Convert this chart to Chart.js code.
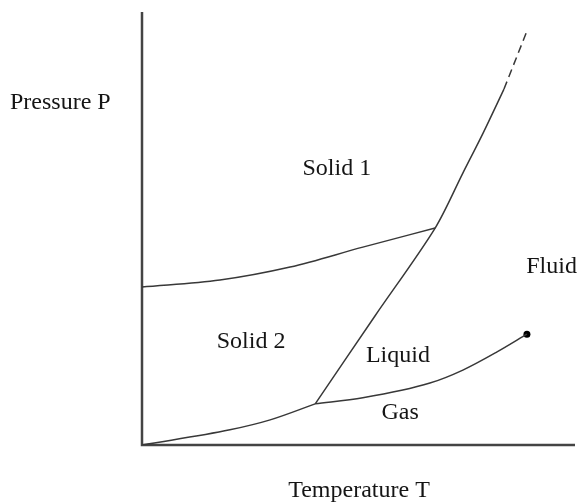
<!DOCTYPE html>
<html lang="en">
<head>
    <meta charset="UTF-8">
    <title>Phase Diagram</title>
    <style>
        body {
            margin: 0;
            background-color: #fff;
        }
        canvas {
            display: block;
        }
    </style>
    <script src="https://cdn.jsdelivr.net/npm/chart.js"></script>
</head>
<body>
    <canvas id="phaseChart" width="580" height="504"></canvas>

    <script>
        // Phase boundaries, in arbitrary units (T and P from 0 to 100)
        const sublimationT = [0, 20.3, 29.6, 40.0];
        const sublimationP = [0, 3.5, 5.8, 9.5];

        const vaporT = [40.0, 51.0, 66.5, 74.1, 82.0, 88.9];
        const vaporP = [9.5, 10.9, 14.3, 17.3, 21.5, 25.6];

        const meltingT = [40.0, 53.8, 67.7, 74.1, 78.8, 83.6];
        const meltingP = [9.5, 29.8, 50.1, 62.8, 72.1, 82.2];

        const meltingDashT = [83.6, 89.1];
        const meltingDashP = [82.2, 96.1];

        const solidSolidT = [0, 18.0, 34.2, 51.0, 67.7];
        const solidSolidP = [36.5, 38.1, 41.1, 45.7, 50.1];

        const criticalT = [88.9];
        const criticalP = [25.6];

        // Region names and where they sit (T, P at the text baseline)
        const regionNames = ['Solid 1', 'Solid 2', 'Liquid', 'Gas', 'Fluid'];
        const regionT = [45.0, 25.2, 59.1, 59.6, 94.6];
        const regionP = [62.4, 22.4, 19.2, 6.0, 39.7];

        const lineColor = '#383838';
        const textFont = '24px "Liberation Serif", "DejaVu Serif", serif';

        function toPoints(xs, ys) {
            return xs.map((x, i) => ({ x: x, y: ys[i] }));
        }

        function curve(xs, ys, opts) {
            opts = opts || {};
            return {
                data: toPoints(xs, ys),
                showLine: true,
                pointRadius: 0,
                borderColor: lineColor,
                borderWidth: 1.5,
                borderDash: opts.dashed ? [8, 5] : [],
                cubicInterpolationMode: opts.spline ? 'default' : 'monotone',
                tension: opts.spline ? 0.3 : 0,
                fill: false
            };
        }

        // Axis lines and text labels
        const diagramText = {
            id: 'diagramText',
            beforeDatasetsDraw(chart) {
                const { ctx, chartArea } = chart;
                ctx.save();
                ctx.strokeStyle = '#444';
                ctx.lineWidth = 2.5;
                ctx.beginPath();
                ctx.moveTo(chartArea.left, chartArea.top);
                ctx.lineTo(chartArea.left, chartArea.bottom);
                ctx.lineTo(chartArea.right, chartArea.bottom);
                ctx.stroke();
                ctx.restore();
            },
            afterDraw(chart) {
                const { ctx, scales } = chart;
                ctx.save();
                ctx.fillStyle = '#151515';
                ctx.font = textFont;
                ctx.textBaseline = 'alphabetic';
                ctx.textAlign = 'center';
                regionNames.forEach((name, i) => {
                    ctx.fillText(name, scales.x.getPixelForValue(regionT[i]), scales.y.getPixelForValue(regionP[i]));
                });
                // axis titles
                ctx.textAlign = 'left';
                ctx.fillText('Pressure P', 10, 109);
                ctx.textAlign = 'center';
                ctx.fillText('Temperature T', 359, 497);
                ctx.restore();
            }
        };

        const ctx = document.getElementById('phaseChart').getContext('2d');
        new Chart(ctx, {
            type: 'scatter',
            data: {
                datasets: [
                    curve(sublimationT, sublimationP),
                    curve(vaporT, vaporP),
                    curve(meltingT, meltingP, { spline: true }),
                    curve(meltingDashT, meltingDashP, { dashed: true }),
                    curve(solidSolidT, solidSolidP),
                    {
                        data: toPoints(criticalT, criticalP),
                        pointRadius: 3.5,
                        pointBackgroundColor: '#000',
                        pointBorderWidth: 0
                    }
                ]
            },
            options: {
                responsive: false,
                animation: false,
                layout: {
                    padding: { left: 142, top: 12, right: 5, bottom: 59 }
                },
                plugins: {
                    legend: { display: false },
                    tooltip: { enabled: false }
                },
                scales: {
                    x: { type: 'linear', min: 0, max: 100, display: false },
                    y: { type: 'linear', min: 0, max: 100, display: false }
                }
            },
            plugins: [diagramText]
        });
    </script>
</body>
</html>
